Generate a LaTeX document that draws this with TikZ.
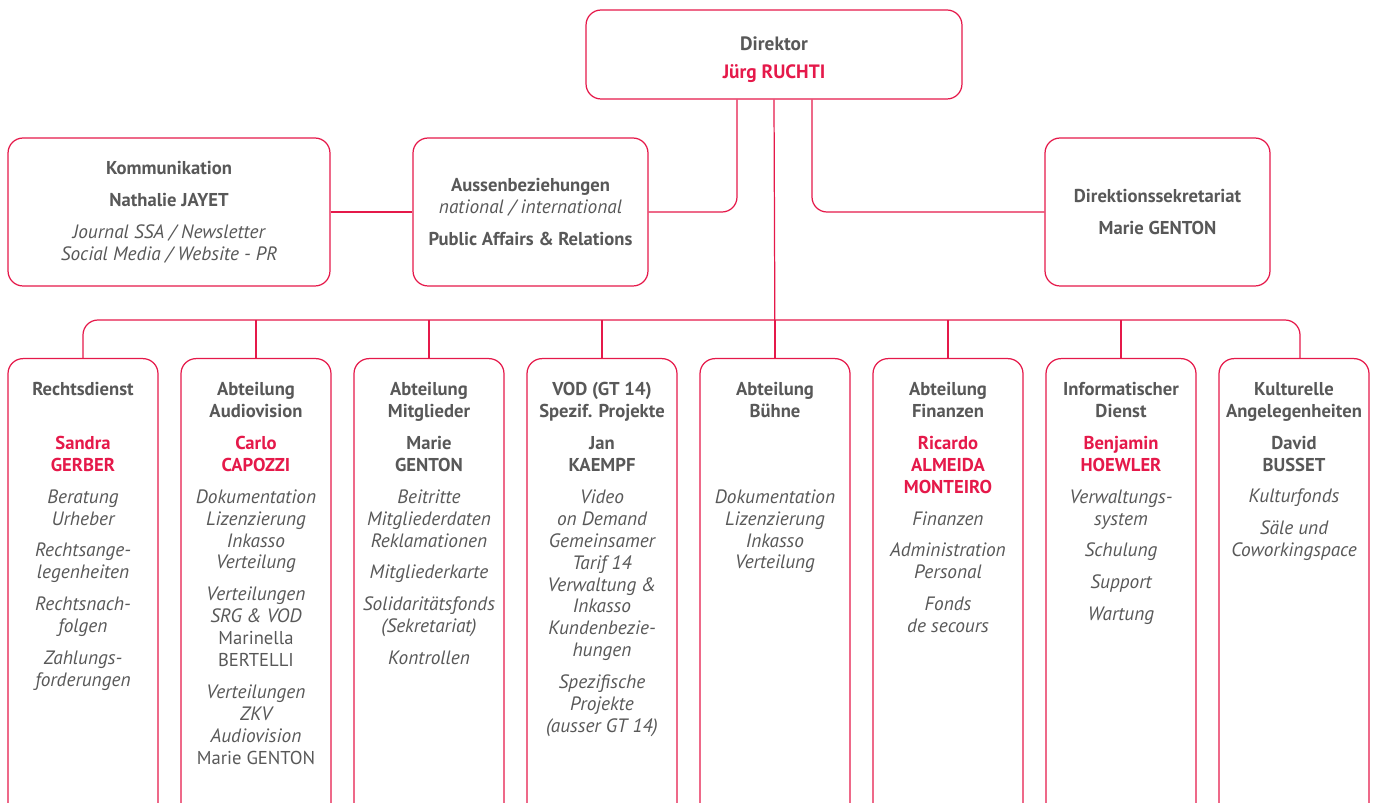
\documentclass[tikz,border=0pt]{standalone}
\usepackage{fontspec}
\setmainfont{PT Sans}
\usepackage{tikz}

\definecolor{ssared}{HTML}{E5194A}
\definecolor{ssagray}{HTML}{585858}

\newcommand\hd[1]{\textbf{#1}}
\newcommand\nm[1]{{\color{ssared}\bfseries #1}}
\newcommand\tk[1]{{\fontsize{11}{12.5}\selectfont\itshape #1}}
\newcommand\gp{\\[5.6pt]}

\tikzset{
	unit/.style={draw=ssared, line width=0.7pt, rounded corners=0.3cm, text=ssagray, align=center, font=\fontsize{10.6}{12.5}\selectfont},
	dept/.style={unit, minimum width=3cm, minimum height=9.6cm, anchor=north},
	txt/.style={align=center, text=ssagray, font=\fontsize{10.6}{12.5}\selectfont, inner sep=0pt, anchor=north, yshift=-0.48cm},
	conn/.style={draw=ssared, line width=0.7pt, rounded corners=0.3cm}
}

\begin{document}
\begin{tikzpicture}[x=0.02cm, y=-0.02cm]
		\useasboundingbox (0,0) rectangle (1373,803);
		\clip (0,0) rectangle (1373,803);
		\node[unit, minimum width=7.52cm, minimum height=1.78cm, font=\fontsize{11}{16}\selectfont] (dir) at (774,54.5) {\mbox{}\\[-2.4pt] \hd{Direktor}\\ \nm{Jürg RUCHTI}};
		\node[unit, minimum width=6.44cm, minimum height=2.96cm] (komm) at (169,212) {\hd{Kommunikation}\\[6pt] \hd{Nathalie JAYET}\gp \tk{Journal SSA / Newsletter}\\ \tk{Social Media / Website - PR}};
		\node[unit, minimum width=4.7cm, minimum height=2.96cm] (aus) at (530.5,212) {\hd{Aussenbeziehungen}\\ \tk{national / international}\gp \hd{Public Affairs \& Relations}};
		\node[unit, minimum width=4.5cm, minimum height=2.96cm] (sek) at (1157.5,212) {\hd{Direktionssekretariat}\gp \hd{Marie GENTON}};
		\foreach \i in {1,...,8}{
			\node[dept] (b\i) at (83+173*\i-173,358) {};
		}
		\node[txt] (t1) at (b1.north) {\hd{Rechtsdienst}\\ \mbox{}\gp \nm{Sandra}\\ \nm{GERBER}\gp \tk{Beratung}\\ \tk{Urheber}\gp \tk{Rechtsange-}\\ \tk{legenheiten}\gp \tk{Rechtsnach-}\\ \tk{folgen}\gp \tk{Zahlungs-}\\ \tk{forderungen}};
		\node[txt] (t2) at (b2.north) {\hd{Abteilung}\\ \hd{Audiovision}\gp \nm{Carlo}\\ \nm{CAPOZZI}\gp \tk{Dokumentation}\\ \tk{Lizenzierung}\\ \tk{Inkasso}\\ \tk{Verteilung}\gp \tk{Verteilungen}\\ \tk{SRG \& VOD}\\ Marinella\\ BERTELLI\gp \tk{Verteilungen}\\ \tk{ZKV}\\ \tk{Audiovision}\\ Marie GENTON};
		\node[txt] (t3) at (b3.north) {\hd{Abteilung}\\ \hd{Mitglieder}\gp \hd{Marie}\\ \hd{GENTON}\gp \tk{Beitritte}\\ \tk{Mitgliederdaten}\\ \tk{Reklamationen}\gp \tk{Mitgliederkarte}\gp \tk{Solidaritätsfonds}\\ \tk{(Sekretariat)}\gp \tk{Kontrollen}};
		\node[txt] (t4) at (b4.north) {\hd{VOD (GT 14)}\\ \hd{Spezif. Projekte}\gp \hd{Jan}\\ \hd{KAEMPF}\gp \tk{Video}\\ \tk{on Demand}\\ \tk{Gemeinsamer}\\ \tk{Tarif 14}\\ \tk{Verwaltung \&}\\ \tk{Inkasso}\\ \tk{Kundenbezie-}\\ \tk{hungen}\gp \tk{Spezifische}\\ \tk{Projekte}\\ \tk{(ausser GT 14)}};
		\node[txt] (t5) at (b5.north) {\hd{Abteilung}\\ \hd{Bühne}\gp \mbox{}\\ \mbox{}\gp \tk{Dokumentation}\\ \tk{Lizenzierung}\\ \tk{Inkasso}\\ \tk{Verteilung}};
		\node[txt] (t6) at (b6.north) {\hd{Abteilung}\\ \hd{Finanzen}\gp \nm{Ricardo}\\ \nm{ALMEIDA}\\ \nm{MONTEIRO}\gp \tk{Finanzen}\gp \tk{Administration}\\ \tk{Personal}\gp \tk{Fonds}\\ \tk{de secours}};
		\node[txt] (t7) at (b7.north) {\hd{Informatischer}\\ \hd{Dienst}\gp \nm{Benjamin}\\ \nm{HOEWLER}\gp \tk{Verwaltungs-}\\ \tk{system}\gp \tk{Schulung}\gp \tk{Support}\gp \tk{Wartung}};
		\node[txt] (t8) at (b8.north) {\hd{Kulturelle}\\ \hd{Angelegenheiten}\gp \hd{David}\\ \hd{BUSSET}\gp \tk{Kulturfonds}\gp \tk{Säle und}\\ \tk{Coworkingspace}};
		\draw[conn] (komm.east) -- (aus.west);
		\draw[conn] (dir.south) ++(-37,0) |- (aus.east);
		\draw[conn] (dir.south) ++(38,0) |- (sek.west);
		\draw[conn] (dir.south) -- (b5.north);
		\draw[conn] (b1.north) -- ++(0,-38) -| ([xshift=0.12cm]b8.north);
		\foreach \i in {2,...,7}{
			\draw[conn] (b\i.north) -- ++(0,-38);
		}
\end{tikzpicture}
\end{document}
